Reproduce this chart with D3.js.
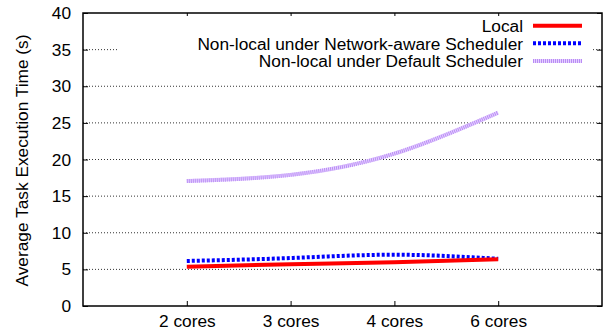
<!DOCTYPE html>
<html>
<head>
<meta charset="utf-8">
<script src="https://cdn.jsdelivr.net/npm/d3@7"></script>
<style>
	body { margin: 0; background: #fff; }
	text { font-family: "Liberation Sans", Arial, sans-serif; fill: #000; }
</style>
</head>
<body>
<div id="chart"></div>
<script>
var categories = ['2 cores', '3 cores', '4 cores', '6 cores'];
var localTimes = [5.37, 5.7, 5.96, 6.37];
var networkAwareTimes = [6.15, 6.55, 7.0, 6.45];
var defaultTimes = [17.05, 17.9, 20.8, 26.4];
var yTicks = [0, 5, 10, 15, 20, 25, 30, 35, 40];
var seriesNames = ['Local', 'Non-local under Network-aware Scheduler', 'Non-local under Default Scheduler'];

var width = 611, height = 333;
var margin = {top: 13, right: 9, bottom: 27, left: 83};
var fontSize = 17.3;

var svg = d3.select('#chart').append('svg')
	.attr('width', width)
	.attr('height', height);

var x = d3.scaleLinear().domain([0, categories.length + 1]).range([margin.left, width - margin.right]);
var y = d3.scaleLinear().domain([0, 40]).range([height - margin.bottom, margin.top]);

// grid
svg.selectAll('line.grid')
	.data(yTicks.filter(function(d){ return d > 0 && d < 40; })).enter()
	.append('line')
	.attr('class', 'grid')
	.attr('x1', x(0)).attr('x2', x(5))
	.attr('y1', function(d){ return y(d); })
	.attr('y2', function(d){ return y(d); })
	.attr('stroke', '#333')
	.attr('stroke-width', 1)
	.attr('stroke-dasharray', '1,2');

// axes, ticks pointing inward
var tickIdx = categories.map(function(c, i){ return i + 1; });
var fmtCat = function(d){ return categories[d - 1]; };

var bottomAxis = svg.append('g')
	.attr('transform', 'translate(0,' + y(0) + ')')
	.call(d3.axisBottom(x).tickValues(tickIdx).tickFormat(fmtCat).tickSize(-5).tickPadding(9));
var topAxis = svg.append('g')
	.attr('transform', 'translate(0,' + y(40) + ')')
	.call(d3.axisTop(x).tickValues(tickIdx).tickFormat('').tickSize(-5));
var leftAxis = svg.append('g')
	.attr('transform', 'translate(' + x(0) + ',0)')
	.call(d3.axisLeft(y).tickValues(yTicks).tickSize(-5).tickPadding(12));
var rightAxis = svg.append('g')
	.attr('transform', 'translate(' + x(5) + ',0)')
	.call(d3.axisRight(y).tickValues(yTicks).tickFormat('').tickSize(-5));

[bottomAxis, topAxis, leftAxis, rightAxis].forEach(function(g){
	g.select('.domain').remove();
	g.selectAll('line').attr('stroke', '#000').attr('stroke-width', 1);
	g.selectAll('text').attr('font-size', fontSize).attr('font-family', '"Liberation Sans", Arial, sans-serif').attr('fill', '#000');
});

// legend background hides grid like gnuplot key
var legX = 523, legY = [25.7, 43.3, 61];
svg.append('rect')
	.attr('x', 118).attr('y', 16)
	.attr('width', 591 - 118).attr('height', 56)
	.attr('fill', '#fff');

// frame
svg.append('rect')
	.attr('x', x(0)).attr('y', y(40))
	.attr('width', x(5) - x(0)).attr('height', y(0) - y(40))
	.attr('fill', 'none')
	.attr('stroke', '#000')
	.attr('stroke-width', 1.5);

var line = d3.line()
	.x(function(d, i){ return x(i + 1); })
	.y(function(d){ return y(d); })
	.curve(d3.curveNatural);

var styles = [
	[{stroke: '#ff0000', width: 4, dash: null}],
	[{stroke: '#0000ff', width: 4, dash: '3,2'}],
	[{stroke: '#e6d2ff', width: 4, dash: null}, {stroke: '#b98cf5', width: 4, dash: '1,1'}]
];
var allSeries = [localTimes, networkAwareTimes, defaultTimes];

[2, 1, 0].forEach(function(k){
	styles[k].forEach(function(s){
		svg.append('path')
			.datum(allSeries[k])
			.attr('d', line)
			.attr('fill', 'none')
			.attr('stroke', s.stroke)
			.attr('stroke-width', s.width)
			.attr('stroke-dasharray', s.dash);
	});
});

// legend
seriesNames.forEach(function(name, k){
	svg.append('text')
		.attr('x', legX)
		.attr('y', legY[k])
		.attr('dy', '0.36em')
		.attr('text-anchor', 'end')
		.attr('font-size', fontSize)
		.text(name);
	styles[k].forEach(function(s){
		svg.append('line')
			.attr('x1', 533).attr('x2', 582)
			.attr('y1', legY[k]).attr('y2', legY[k])
			.attr('stroke', s.stroke)
			.attr('stroke-width', s.width)
			.attr('stroke-dasharray', s.dash);
	});
});

// y axis title
svg.append('text')
	.attr('transform', 'translate(22,' + 160.5 + ') rotate(-90)')
	.attr('text-anchor', 'middle')
	.attr('dy', '0.36em')
	.attr('font-size', fontSize)
	.text('Average Task Execution Time (s)');
</script>
</body>
</html>
